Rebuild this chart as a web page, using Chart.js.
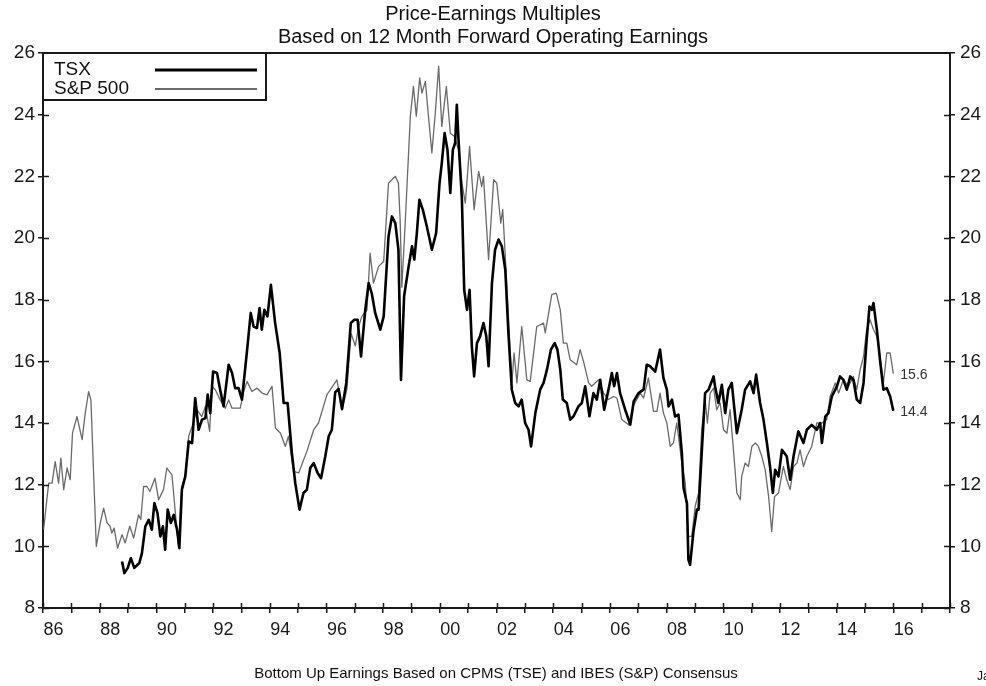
<!DOCTYPE html>
<html>
<head>
<meta charset="utf-8">
<title>Price-Earnings Multiples</title>
<script src="https://cdn.jsdelivr.net/npm/chart.js@4.4.1/dist/chart.umd.min.js"></script>
<style>
  html, body { margin: 0; padding: 0; background: #fff; }
  #wrap { width: 986px; height: 686px; }
</style>
</head>
<body>
<div id="wrap"><canvas id="pe" width="986" height="686"></canvas></div>
<script>
/* ── Data (decimal years) ───────────────────────────────── */
const tsxYears = [
  1988.79, 1988.87, 1988.99, 1989.10, 1989.22, 1989.40, 1989.49, 1989.61, 1989.73, 1989.84,
  1989.93, 1990.04, 1990.14, 1990.23, 1990.31, 1990.40, 1990.51, 1990.61, 1990.73, 1990.81,
  1990.90, 1991.02, 1991.14, 1991.26, 1991.37, 1991.49, 1991.61, 1991.73, 1991.81, 1991.90,
  1992.00, 1992.14, 1992.25, 1992.37, 1992.55, 1992.67, 1992.78, 1992.90, 1993.02, 1993.19,
  1993.33, 1993.43, 1993.55, 1993.64, 1993.72, 1993.81, 1993.92, 1994.04, 1994.19, 1994.35,
  1994.49, 1994.63, 1994.78, 1994.90, 1995.05, 1995.19, 1995.31, 1995.43, 1995.55, 1995.69,
  1995.81, 1995.96, 1996.08, 1996.19, 1996.31, 1996.43, 1996.55, 1996.70, 1996.86, 1996.98,
  1997.10, 1997.22, 1997.37, 1997.49, 1997.60, 1997.72, 1997.90, 1998.02, 1998.19, 1998.31,
  1998.43, 1998.54, 1998.63, 1998.74, 1998.90, 1999.02, 1999.10, 1999.19, 1999.28, 1999.40,
  1999.54, 1999.72, 1999.87, 1999.99, 2000.07, 2000.17, 2000.27, 2000.37, 2000.46, 2000.54,
  2000.60, 2000.66, 2000.78, 2000.86, 2000.96, 2001.05, 2001.13, 2001.21, 2001.31, 2001.42,
  2001.54, 2001.64, 2001.72, 2001.84, 2001.95, 2002.07, 2002.19, 2002.31, 2002.42, 2002.54,
  2002.66, 2002.78, 2002.89, 2003.01, 2003.13, 2003.22, 2003.37, 2003.54, 2003.66, 2003.78,
  2003.92, 2004.05, 2004.15, 2004.25, 2004.34, 2004.48, 2004.60, 2004.72, 2004.89, 2005.01,
  2005.13, 2005.28, 2005.42, 2005.54, 2005.66, 2005.80, 2005.95, 2006.07, 2006.15, 2006.25,
  2006.36, 2006.54, 2006.72, 2006.84, 2007.01, 2007.19, 2007.30, 2007.42, 2007.60, 2007.77,
  2007.89, 2008.01, 2008.07, 2008.19, 2008.30, 2008.42, 2008.54, 2008.60, 2008.72, 2008.77,
  2008.83, 2008.95, 2009.07, 2009.13, 2009.24, 2009.36, 2009.48, 2009.66, 2009.71, 2009.83,
  2009.95, 2010.07, 2010.18, 2010.30, 2010.48, 2010.65, 2010.77, 2010.95, 2011.07, 2011.16,
  2011.30, 2011.42, 2011.54, 2011.65, 2011.75, 2011.83, 2011.95, 2012.07, 2012.24, 2012.36,
  2012.48, 2012.65, 2012.83, 2012.95, 2013.12, 2013.30, 2013.42, 2013.48, 2013.60, 2013.71,
  2013.83, 2014.01, 2014.12, 2014.24, 2014.36, 2014.48, 2014.59, 2014.71, 2014.83, 2014.95,
  2015.06, 2015.16, 2015.24, 2015.30, 2015.42, 2015.53, 2015.65, 2015.77, 2015.89, 2016.00,
];
const tsxValues = [
  9.51, 9.13, 9.30, 9.62, 9.30, 9.46, 9.78, 10.65, 10.86, 10.54,
  11.40, 11.08, 10.32, 10.65, 9.89, 11.19, 10.76, 11.02, 10.54, 9.94,
  11.84, 12.27, 13.40, 13.35, 14.81, 13.78, 14.11, 14.16, 14.92, 14.32,
  15.67, 15.62, 15.08, 14.54, 15.89, 15.62, 15.13, 15.13, 14.76, 16.27,
  17.57, 17.13, 17.08, 17.73, 17.03, 17.67, 17.46, 18.48, 17.24, 16.27,
  14.65, 14.65, 13.03, 12.05, 11.19, 11.73, 11.84, 12.54, 12.70, 12.38,
  12.21, 12.92, 13.57, 13.78, 15.00, 15.10, 14.45, 15.30, 17.24, 17.35,
  17.35, 16.16, 17.67, 18.54, 18.20, 17.57, 17.03, 17.46, 20.05, 20.70,
  20.48, 19.62, 15.40, 18.11, 19.08, 19.73, 19.30, 20.16, 21.24, 20.92,
  20.38, 19.62, 20.16, 21.78, 22.43, 23.40, 22.86, 21.46, 22.86, 23.08,
  24.32, 23.19, 21.24, 18.32, 17.67, 18.32, 16.49, 15.51, 16.59, 16.81,
  17.24, 16.81, 15.84, 18.54, 19.62, 19.95, 19.73, 18.97, 16.92, 15.08,
  14.65, 14.54, 14.76, 14.00, 13.78, 13.24, 14.32, 15.08, 15.30, 15.73,
  16.38, 16.59, 16.38, 15.73, 14.76, 14.65, 14.11, 14.22, 14.54, 14.65,
  15.19, 14.22, 14.97, 14.76, 15.40, 14.43, 15.08, 15.62, 15.19, 15.62,
  14.97, 14.43, 13.95, 14.70, 14.97, 15.08, 15.89, 15.84, 15.67, 16.38,
  15.46, 15.08, 14.54, 14.76, 14.21, 14.27, 13.03, 11.89, 11.40, 9.57,
  9.40, 10.49, 11.19, 11.19, 13.03, 14.97, 15.08, 15.51, 15.19, 14.65,
  15.24, 14.32, 15.08, 15.30, 13.67, 14.43, 15.08, 15.35, 14.97, 15.57,
  14.65, 14.11, 13.35, 12.59, 11.73, 12.48, 12.27, 13.13, 12.92, 12.16,
  12.92, 13.73, 13.35, 13.78, 13.94, 13.78, 14.00, 13.35, 14.21, 14.32,
  14.86, 15.19, 15.51, 15.40, 15.08, 15.51, 15.40, 14.76, 14.65, 15.30,
  16.70, 17.78, 17.67, 17.89, 17.03, 16.05, 15.08, 15.13, 14.86, 14.40,
];

const spYears = [
  1986.02, 1986.20, 1986.32, 1986.43, 1986.55, 1986.63, 1986.73, 1986.85, 1986.96, 1987.04,
  1987.20, 1987.38, 1987.49, 1987.61, 1987.69, 1987.88, 1988.02, 1988.14, 1988.26, 1988.37,
  1988.43, 1988.51, 1988.63, 1988.79, 1988.90, 1989.06, 1989.20, 1989.37, 1989.45, 1989.55,
  1989.67, 1989.77, 1989.95, 1990.08, 1990.25, 1990.37, 1990.55, 1990.67, 1990.78, 1990.90,
  1991.02, 1991.14, 1991.26, 1991.43, 1991.60, 1991.73, 1991.88, 1991.96, 1992.08, 1992.25,
  1992.43, 1992.55, 1992.67, 1992.96, 1993.08, 1993.20, 1993.37, 1993.55, 1993.73, 1993.90,
  1994.08, 1994.20, 1994.38, 1994.55, 1994.66, 1994.84, 1995.02, 1995.31, 1995.55, 1995.72,
  1996.02, 1996.37, 1996.55, 1996.72, 1996.87, 1997.02, 1997.13, 1997.25, 1997.43, 1997.54,
  1997.66, 1997.84, 1998.02, 1998.19, 1998.31, 1998.43, 1998.54, 1998.60, 1998.66, 1998.78,
  1998.96, 1999.07, 1999.17, 1999.29, 1999.37, 1999.49, 1999.60, 1999.72, 1999.84, 1999.96,
  2000.07, 2000.23, 2000.37, 2000.51, 2000.66, 2000.78, 2000.90, 2001.05, 2001.21, 2001.37,
  2001.48, 2001.54, 2001.72, 2001.90, 2002.01, 2002.15, 2002.22, 2002.31, 2002.42, 2002.54,
  2002.62, 2002.72, 2002.89, 2003.07, 2003.19, 2003.42, 2003.66, 2003.72, 2003.84, 2003.95,
  2004.11, 2004.25, 2004.36, 2004.48, 2004.60, 2004.83, 2004.95, 2005.07, 2005.25, 2005.36,
  2005.48, 2005.60, 2005.78, 2005.95, 2006.13, 2006.25, 2006.42, 2006.66, 2006.83, 2007.07,
  2007.19, 2007.36, 2007.54, 2007.66, 2007.77, 2007.89, 2008.01, 2008.13, 2008.24, 2008.36,
  2008.54, 2008.66, 2008.77, 2008.89, 2009.01, 2009.13, 2009.24, 2009.36, 2009.44, 2009.54,
  2009.66, 2009.77, 2009.89, 2010.01, 2010.13, 2010.24, 2010.36, 2010.48, 2010.60, 2010.65,
  2010.77, 2010.89, 2011.01, 2011.13, 2011.24, 2011.36, 2011.48, 2011.60, 2011.71, 2011.81,
  2011.95, 2012.12, 2012.24, 2012.36, 2012.48, 2012.60, 2012.71, 2012.83, 2012.95, 2013.12,
  2013.30, 2013.48, 2013.65, 2013.77, 2013.95, 2014.07, 2014.24, 2014.42, 2014.59, 2014.71,
  2014.83, 2014.95, 2015.06, 2015.18, 2015.30, 2015.42, 2015.53, 2015.65, 2015.77, 2015.89,
  2016.00,
];
const spValues = [
  10.54, 12.05, 12.05, 12.75, 12.05, 12.86, 11.84, 12.54, 12.16, 13.67,
  14.21, 13.46, 14.32, 15.02, 14.75, 10.00, 10.76, 11.24, 10.76, 10.65,
  10.43, 10.59, 9.94, 10.38, 10.11, 10.65, 10.27, 11.02, 10.87, 11.94,
  11.94, 11.78, 12.21, 11.51, 11.84, 12.54, 12.32, 11.08, 10.00, 11.94,
  12.27, 13.57, 13.89, 14.43, 14.21, 14.54, 13.73, 15.19, 15.08, 14.75,
  14.48, 14.75, 14.48, 14.48, 15.02, 15.35, 15.02, 15.13, 14.97, 14.91,
  15.19, 13.84, 13.67, 13.24, 13.57, 12.43, 12.38, 13.08, 13.78, 14.00,
  14.92, 15.40, 14.43, 15.08, 16.90, 16.50, 17.10, 17.46, 17.67, 19.51,
  18.54, 19.08, 19.24, 21.78, 21.89, 22.00, 21.78, 20.59, 18.40, 20.50,
  23.95, 24.92, 23.95, 25.19, 24.70, 25.08, 23.95, 22.76, 24.05, 25.57,
  23.62, 24.92, 23.40, 23.30, 22.86, 21.78, 21.13, 22.97, 20.92, 22.16,
  21.67, 22.00, 19.30, 21.89, 21.78, 20.48, 20.92, 19.40, 17.46, 15.30,
  16.27, 15.30, 17.13, 15.40, 15.35, 17.13, 17.24, 16.92, 17.57, 18.16,
  18.21, 17.67, 16.59, 16.59, 16.05, 15.89, 16.38, 16.00, 15.30, 15.19,
  15.30, 15.40, 14.97, 14.76, 14.86, 14.81, 14.11, 13.94, 14.55, 14.97,
  14.81, 15.46, 14.38, 14.38, 14.97, 14.32, 14.00, 13.24, 13.35, 14.00,
  12.70, 12.05, 10.32, 10.32, 11.30, 11.73, 13.78, 14.76, 14.00, 14.97,
  15.13, 14.43, 14.65, 13.78, 13.67, 14.43, 13.13, 11.73, 11.51, 12.27,
  12.70, 12.59, 13.24, 13.35, 13.24, 12.92, 12.48, 11.62, 10.48, 11.62,
  11.73, 12.59, 12.16, 11.84, 12.59, 12.70, 13.13, 12.59, 12.92, 13.24,
  14.00, 14.00, 14.11, 14.86, 15.30, 14.97, 15.40, 15.19, 15.51, 15.08,
  15.73, 16.16, 17.03, 17.35, 17.03, 16.81, 16.16, 15.30, 16.27, 16.27,
  15.60,
];

const yearMin = 1986, yearMax = 2018;
const peMin = 8, peMax = 26, peStep = 2;
const titleLines = ['Price-Earnings Multiples', 'Based on 12 Month Forward Operating Earnings'];
const footnote = 'Bottom Up Earnings Based on CPMS (TSE) and IBES (S&P) Consensus';

/* ── Styling ─────────────────────────────────────────────── */
const INK  = '#1a1a1a';
const FONT = "'Liberation Sans', Arial, Helvetica, sans-serif";

const toPoints = (xs, ys) => xs.map((x, i) => ({ x, y: ys[i] }));

/* inner tick halves, top border, legend box, end labels, footnote */
const framePlugin = {
  id: 'frame',
  afterDatasetsDraw(chart) {
    const { ctx, chartArea: a, scales } = chart;
    ctx.save();

    ctx.strokeStyle = INK;
    ctx.lineWidth = 2;
    ctx.beginPath();
    ctx.moveTo(a.left - 1, a.top);
    ctx.lineTo(a.right + 1, a.top);
    ctx.stroke();

    ctx.lineWidth = 1.5;
    ctx.beginPath();
    scales.x.ticks.forEach(t => {
      const px = Math.round(scales.x.getPixelForValue(t.value)) + 0.5;
      ctx.moveTo(px, a.bottom);
      ctx.lineTo(px, a.bottom - 5);
    });
    scales.y.ticks.forEach(t => {
      const py = Math.round(scales.y.getPixelForValue(t.value)) + 0.5;
      if (t.value === peMax) return;
      ctx.moveTo(a.left, py);  ctx.lineTo(a.left + 6, py);
      ctx.moveTo(a.right, py); ctx.lineTo(a.right - 6, py);
    });
    ctx.stroke();

    // legend box
    const bx = a.left, by = a.top, bw = 223, bh = 47;
    ctx.fillStyle = '#fff';
    ctx.fillRect(bx, by, bw, bh);
    ctx.strokeStyle = INK;
    ctx.lineWidth = 2;
    ctx.strokeRect(bx, by, bw, bh);
    ctx.font = '19px ' + FONT;
    ctx.textBaseline = 'middle';
    ctx.textAlign = 'left';
    chart.data.datasets.forEach((ds, i) => {
      const ly = by + 17 + i * 19;
      ctx.fillStyle = '#111';
      ctx.fillText(ds.label, bx + 11, ly);
      ctx.strokeStyle = ds.borderColor;
      ctx.lineWidth = ds.borderWidth + (i === 0 ? 0.4 : 0.6);
      ctx.beginPath();
      ctx.moveTo(bx + 112, ly);
      ctx.lineTo(bx + 214, ly);
      ctx.stroke();
    });

    // last-value labels
    ctx.font = '14px ' + FONT;
    ctx.fillStyle = '#333';
    [1, 0].forEach(i => {
      const d = chart.data.datasets[i].data;
      const last = d[d.length - 1];
      const px = scales.x.getPixelForValue(last.x);
      const py = scales.y.getPixelForValue(last.y);
      ctx.fillText(last.y.toFixed(1), px + 7, py + 1);
    });

    // footnote
    ctx.font = '15px ' + FONT;
    ctx.fillStyle = '#111';
    ctx.textAlign = 'center';
    ctx.fillText(footnote, 496, 674);
    ctx.font = '12px ' + FONT;
    ctx.textAlign = 'left';
    ctx.fillText('Ja', 977, 677);

    ctx.restore();
  },
};

const yAxis = (position, width, pad) => ({
  type: 'linear',
  position,
  min: peMin, max: peMax,
  afterFit: s => { s.width = width; },
  ticks: { stepSize: peStep, color: INK, padding: pad, font: { family: FONT, size: 19 } },
  grid:  { drawOnChartArea: false, drawTicks: true, tickLength: 5, color: INK, lineWidth: 1.5 },
  border: { display: true, color: INK, width: 2 },
});

new Chart(document.getElementById('pe'), {
  type: 'line',
  data: {
    datasets: [
      {
        label: 'TSX',
        data: toPoints(tsxYears, tsxValues),
        borderColor: '#000',
        borderWidth: 2.6,
        pointRadius: 0,
        tension: 0,
        borderJoinStyle: 'round',
        yAxisID: 'y',
      },
      {
        label: 'S&P 500',
        data: toPoints(spYears, spValues),
        borderColor: '#6a6a6a',
        borderWidth: 1.3,
        pointRadius: 0,
        tension: 0,
        borderJoinStyle: 'round',
        yAxisID: 'y',
      },
    ],
  },
  options: {
    responsive: false,
    devicePixelRatio: 1,
    animation: false,
    layout: { padding: 0 },
    plugins: {
      legend: { display: false },
      tooltip: { enabled: false },
      title: {
        display: true,
        text: titleLines,
        color: '#111',
        font: { family: FONT, size: 20, weight: 'normal', lineHeight: 1.15 },
        padding: { top: 3, bottom: 4 },
      },
    },
    scales: {
      x: {
        type: 'linear',
        min: yearMin, max: yearMax,
        afterFit: s => { s.height = 78; },
        ticks: {
          stepSize: 1,
          autoSkip: false,
          maxRotation: 0,
          labelOffset: 10.5,
          padding: 6,
          color: INK,
          font: { family: FONT, size: 18 },
          callback: v => (v % 2 === 0 && v <= 2016) ? String(v).slice(2) : '',
        },
        grid:  { drawOnChartArea: false, drawTicks: true, tickLength: 5, color: INK, lineWidth: 1.5 },
        border: { display: true, color: INK, width: 2 },
      },
      y:  yAxis('left', 43, 3),
      y2: yAxis('right', 36, 5),
    },
  },
  plugins: [framePlugin],
});
</script>
</body>
</html>
